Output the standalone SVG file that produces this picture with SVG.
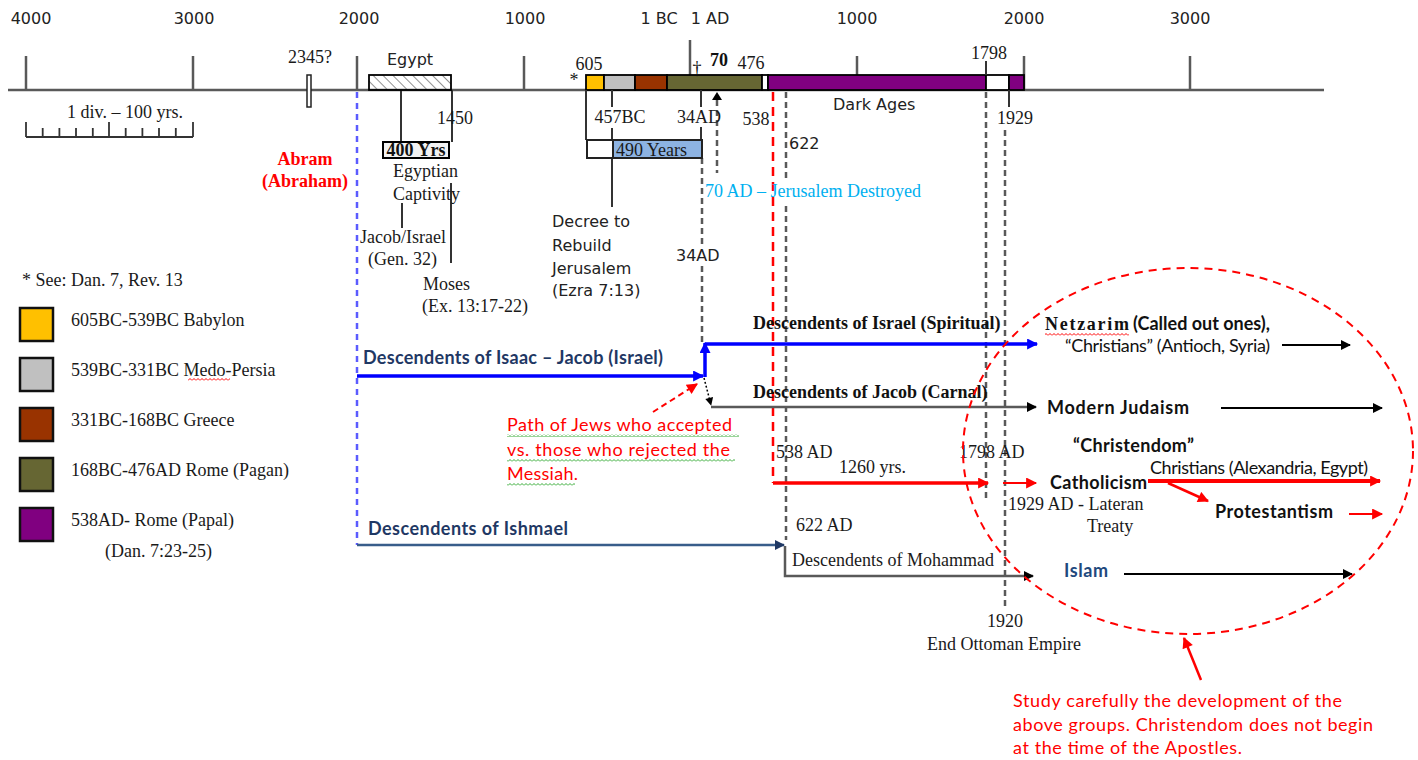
<svg xmlns="http://www.w3.org/2000/svg" width="1418" height="760" viewBox="0 0 1418 760">
<style>
.sr{font-family:"Liberation Serif","Times New Roman",serif;font-size:18px;fill:#1a1a1a}
.srb{font-family:"Liberation Serif","Times New Roman",serif;font-size:18px;font-weight:bold;fill:#111}
.ss{font-family:"DejaVu Sans",Verdana,sans-serif;font-size:16px;fill:#222}
.cb{font-family:Lato,"Liberation Sans",sans-serif;font-size:18px;fill:#111}
.cbb{font-family:Lato,"Liberation Sans",sans-serif;font-size:18px;font-weight:bold;fill:#111}
.red{fill:#ff0000}
.navy{fill:#1f3864}
.tick{stroke:#595959;stroke-width:2.5}
.thin{stroke:#333;stroke-width:2}
.gd{stroke:#595959;stroke-width:2.5;stroke-dasharray:6 4;fill:none}
.bar{stroke:#000;stroke-width:1.8}
.sw{stroke:#111;stroke-width:2.5}
</style>
<defs>
<marker id="aBlue" viewBox="0 0 10 10" refX="9" refY="5" markerWidth="13" markerHeight="11" markerUnits="userSpaceOnUse" orient="auto"><path d="M0,0 L10,5 L0,10 z" fill="#0000ff"/></marker>
<marker id="aBlack" viewBox="0 0 10 10" refX="9" refY="5" markerWidth="12" markerHeight="10" markerUnits="userSpaceOnUse" orient="auto"><path d="M0,0 L10,5 L0,10 z" fill="#000"/></marker>
<marker id="aBlackS" viewBox="0 0 10 10" refX="9" refY="5" markerWidth="9" markerHeight="8" markerUnits="userSpaceOnUse" orient="auto"><path d="M0,0 L10,5 L0,10 z" fill="#000"/></marker>
<marker id="aRed" viewBox="0 0 10 10" refX="9" refY="5" markerWidth="13" markerHeight="11" markerUnits="userSpaceOnUse" orient="auto"><path d="M0,0 L10,5 L0,10 z" fill="#ff0000"/></marker>
<marker id="aNavy" viewBox="0 0 10 10" refX="9" refY="5" markerWidth="12" markerHeight="10" markerUnits="userSpaceOnUse" orient="auto"><path d="M0,0 L10,5 L0,10 z" fill="#1f3864"/></marker>
<pattern id="hatch" width="7" height="7" patternUnits="userSpaceOnUse" patternTransform="rotate(-45)"><line x1="0" y1="0" x2="0" y2="7" stroke="#555" stroke-width="1.3"/></pattern>
<pattern id="wavyG" width="4" height="3" patternUnits="userSpaceOnUse"><path d="M0,2.5 L2,0.5 L4,2.5" fill="none" stroke="#33aa33" stroke-width="1"/></pattern>
<pattern id="wavyR" width="4" height="3" patternUnits="userSpaceOnUse"><path d="M0,2.5 L2,0.5 L4,2.5" fill="none" stroke="#ff0000" stroke-width="1"/></pattern>
</defs>
<rect width="1418" height="760" fill="#fff"/>

<g id="axis">
<line x1="8" y1="90" x2="1324" y2="90" class="tick"/>
<line x1="26" y1="56" x2="26" y2="90" class="tick"/>
<line x1="193" y1="56" x2="193" y2="90" class="tick"/>
<line x1="357" y1="56" x2="357" y2="90" class="tick"/>
<line x1="524" y1="56" x2="524" y2="90" class="tick"/>
<line x1="690" y1="40" x2="690" y2="90" class="tick"/>
<line x1="857" y1="56" x2="857" y2="90" class="tick"/>
<line x1="1024" y1="56" x2="1024" y2="90" class="tick"/>
<line x1="1190" y1="56" x2="1190" y2="90" class="tick"/>
<text class="ss" x="31" y="24" text-anchor="middle">4000</text>
<text class="ss" x="194" y="24" text-anchor="middle">3000</text>
<text class="ss" x="359" y="24" text-anchor="middle">2000</text>
<text class="ss" x="525" y="24" text-anchor="middle">1000</text>
<text class="ss" x="659" y="24" text-anchor="middle">1 BC</text>
<text class="ss" x="710" y="24" text-anchor="middle">1 AD</text>
<text class="ss" x="857" y="24" text-anchor="middle">1000</text>
<text class="ss" x="1024" y="24" text-anchor="middle">2000</text>
<text class="ss" x="1190" y="24" text-anchor="middle">3000</text>
</g>

<g id="scale">
<text class="sr" x="125" y="118" text-anchor="middle">1 div. – 100 yrs.</text>
<path d="M26,137 H193 M26,122 V137 M109,122 V137 M193,122 V137 M42.7,128 V137 M59.4,128 V137 M76,128 V137 M92.8,128 V137 M125.7,128 V137 M142.4,128 V137 M159,128 V137 M175.8,128 V137" stroke="#333" stroke-width="1.8" fill="none"/>
</g>

<g id="guides">
<line x1="357" y1="92" x2="357" y2="545" stroke="#5b5bff" stroke-width="2.5" stroke-dasharray="6 5"/>
<line x1="773" y1="92" x2="773" y2="483" stroke="#ff0000" stroke-width="2.5" stroke-dasharray="9 6"/>
<path class="gd" d="M702,158 V244 M702,266 V343"/>
<line class="gd" x1="717" y1="100" x2="717" y2="173"/>
<path class="gd" d="M786,92 V180 M786,206 V540"/>
<line class="gd" x1="986" y1="92" x2="986" y2="498"/>
<line class="gd" x1="1005" y1="130" x2="1005" y2="606"/>
</g>

<g id="abram">
<text class="srb red" x="305" y="165" text-anchor="middle">Abram</text>
<text class="srb red" x="305" y="187" text-anchor="middle">(Abraham)</text>
<text class="sr" x="310" y="63" text-anchor="middle">2345?</text>
<rect x="307" y="75" width="4" height="32" fill="#fff" stroke="#222" stroke-width="1.5"/>
</g>

<g id="egypt">
<line x1="401" y1="90" x2="401" y2="142" class="thin"/>
<line x1="452" y1="90" x2="452" y2="142" class="thin"/>
<line x1="451" y1="183" x2="451" y2="263" class="thin"/>
<line x1="402" y1="203" x2="402" y2="228" class="thin"/>
<rect x="369" y="75" width="82" height="15" fill="url(#hatch)" stroke="#000" stroke-width="1.8"/>
<text class="ss" x="410" y="65" text-anchor="middle">Egypt</text>
<text class="sr" x="455" y="124" text-anchor="middle">1450</text>
<rect x="383" y="142" width="66" height="16" fill="#f2f2f2" stroke="#000" stroke-width="2"/>
<text class="srb" x="416" y="156" text-anchor="middle" font-size="17">400 Yrs</text>
<text class="sr" x="393" y="177">Egyptian</text>
<text class="sr" x="393" y="200">Captivity</text>
<text class="sr" x="360" y="243">Jacob/Israel</text>
<text class="sr" x="368" y="265">(Gen. 32)</text>
<text class="sr" x="423" y="290">Moses</text>
<text class="sr" x="422" y="312">(Ex. 13:17-22)</text>
</g>

<g id="empires">
<rect x="586" y="75" width="18" height="15" fill="#ffc000" class="bar"/>
<rect x="604" y="75" width="31" height="15" fill="#c0c0c0" class="bar"/>
<rect x="635" y="75" width="32" height="15" fill="#993300" class="bar"/>
<rect x="667" y="75" width="95" height="15" fill="#666633" class="bar"/>
<rect x="762" y="75" width="6" height="15" fill="#fff" class="bar"/>
<rect x="768" y="75" width="218" height="15" fill="#800080" class="bar"/>
<rect x="986" y="75" width="23" height="15" fill="#fff" class="bar"/>
<rect x="1009" y="75" width="15" height="15" fill="#800080" class="bar"/>
<line x1="986" y1="61" x2="986" y2="75" class="thin"/>
<line x1="1009" y1="90" x2="1009" y2="107" class="thin"/>
<text class="sr" x="574" y="86" text-anchor="middle" font-size="16">*</text>
<text class="sr" x="589" y="70" text-anchor="middle">605</text>
<text class="sr" x="697" y="74" text-anchor="middle" font-size="17" style="fill:#111">†</text>
<text class="srb" x="719" y="66" text-anchor="middle" font-size="17">70</text>
<text class="sr" x="751" y="69" text-anchor="middle">476</text>
<text class="sr" x="989" y="59" text-anchor="middle">1798</text>
<text class="sr" x="1015" y="124" text-anchor="middle">1929</text>
<text class="ss" x="833" y="110">Dark Ages</text>
<text class="sr" x="756" y="125" text-anchor="middle">538</text>
<text class="ss" x="789" y="149" font-size="15">622</text>
</g>

<g id="seventy-weeks">
<path d="M586,90 V140 M612,90 V107 M612,128 V207 M701,90 V107 M701,127 V140" class="thin" fill="none"/>
<rect x="587" y="140" width="26" height="18" fill="#fff" stroke="#222" stroke-width="2"/>
<rect x="613" y="140" width="89" height="18" fill="#8db3e2" stroke="#222" stroke-width="2"/>
<text class="sr" x="616" y="156">490 Years</text>
<text class="sr" x="620" y="123" text-anchor="middle">457BC</text>
<text class="sr" x="699" y="123" text-anchor="middle">34AD</text>
<polygon points="712,100 717,92 722,100" fill="#000"/>
<text class="sr" x="705" y="197" style="fill:#00b0f0">70 AD – Jerusalem Destroyed</text>
<text class="ss" x="552" y="227" font-size="17">Decree to</text>
<text class="ss" x="552" y="251" font-size="17">Rebuild</text>
<text class="ss" x="552" y="274" font-size="15">Jerusalem</text>
<text class="ss" x="552" y="296" font-size="14.5">(Ezra 7:13)</text>
<text class="ss" x="676" y="261">34AD</text>
</g>

<g id="legend">
<text class="sr" x="22" y="286" font-size="17">* See: Dan. 7, Rev. 13</text>
<rect x="20" y="308" width="33" height="33" fill="#ffc000" class="sw"/>
<rect x="20" y="358" width="33" height="33" fill="#c0c0c0" class="sw"/>
<rect x="20" y="408" width="33" height="33" fill="#993300" class="sw"/>
<rect x="20" y="458" width="33" height="33" fill="#666633" class="sw"/>
<rect x="20" y="508" width="33" height="33" fill="#800080" class="sw"/>
<text class="sr" x="71" y="326">605BC-539BC Babylon</text>
<text class="sr" x="71" y="376">539BC-331BC Medo-Persia</text>
<rect x="188" y="378" width="42" height="3" fill="url(#wavyR)"/>
<text class="sr" x="71" y="426">331BC-168BC Greece</text>
<text class="sr" x="71" y="476">168BC-476AD Rome (Pagan)</text>
<text class="sr" x="71" y="526">538AD- Rome (Papal)</text>
<text class="sr" x="105" y="557">(Dan. 7:23-25)</text>
</g>

<g id="connectors">
<line x1="357" y1="376" x2="703" y2="376" stroke="#0000ff" stroke-width="3.5" marker-end="url(#aBlue)"/>
<line x1="705" y1="377" x2="705" y2="343" stroke="#0000ff" stroke-width="3.5" marker-end="url(#aBlue)"/>
<line x1="705" y1="344" x2="1037" y2="344" stroke="#0000ff" stroke-width="3.5" marker-end="url(#aBlue)"/>
<line x1="704" y1="378" x2="711" y2="405" stroke="#000" stroke-width="1.5" stroke-dasharray="2 2" marker-end="url(#aBlackS)"/>
<line x1="711" y1="407" x2="1036" y2="407" stroke="#595959" stroke-width="2.5" marker-end="url(#aBlack)"/>
<line x1="1282" y1="345" x2="1350" y2="345" stroke="#000" stroke-width="2" marker-end="url(#aBlack)"/>
<line x1="1221" y1="408" x2="1382" y2="408" stroke="#000" stroke-width="2" marker-end="url(#aBlack)"/>
<line x1="773" y1="483" x2="988" y2="483" stroke="#ff0000" stroke-width="3.5" marker-end="url(#aRed)"/>
<line x1="1003" y1="483" x2="1036" y2="483" stroke="#ff0000" stroke-width="2" marker-end="url(#aRed)"/>
<line x1="1148" y1="481" x2="1380" y2="481" stroke="#ff0000" stroke-width="4" marker-end="url(#aRed)"/>
<line x1="1168" y1="483" x2="1208" y2="501" stroke="#ff0000" stroke-width="2.5" marker-end="url(#aRed)"/>
<line x1="1349" y1="514" x2="1382" y2="514" stroke="#ff0000" stroke-width="2" marker-end="url(#aRed)"/>
<line x1="357" y1="545" x2="784" y2="545" stroke="#385d8a" stroke-width="2.5" marker-end="url(#aNavy)"/>
<polyline points="785,546 785,576 1033,576" fill="none" stroke="#595959" stroke-width="2.5" marker-end="url(#aBlack)"/>
<line x1="1124" y1="574" x2="1352" y2="574" stroke="#000" stroke-width="2" marker-end="url(#aBlack)"/>
<line x1="653" y1="412" x2="697" y2="384" stroke="#ff0000" stroke-width="2" stroke-dasharray="6 4" marker-end="url(#aRed)"/>
<line x1="1201" y1="680" x2="1184" y2="638" stroke="#ff0000" stroke-width="2.5" marker-end="url(#aRed)"/>
</g>

<g id="israel">
<text class="cbb navy" x="363" y="364" textLength="300">Descendents of Isaac – Jacob (Israel)</text>
<text class="srb" x="753" y="329">Descendents of Israel (Spiritual)</text>
<text class="srb" x="753" y="398">Descendents of Jacob (Carnal)</text>
</g>

<g id="jews-note">
<text class="cb red" x="507" y="431" textLength="225">Path of Jews who accepted</text>
<text class="cb red" x="507" y="456" textLength="223">vs. those who rejected the</text>
<text class="cb red" x="507" y="480" textLength="71">Messiah.</text>
<rect x="507" y="434" width="232" height="3" fill="url(#wavyG)"/>
<rect x="507" y="459" width="228" height="3" fill="url(#wavyG)"/>
<rect x="507" y="483" width="68" height="3" fill="url(#wavyG)"/>
</g>

<g id="netzarim">
<text class="srb" x="1045" y="330" font-size="21" textLength="84">Netzarim</text>
<rect x="1045" y="333" width="84" height="3" fill="url(#wavyR)"/>
<text class="cbb" x="1133" y="330" font-size="17" textLength="137">(Called out ones),</text>
<text class="cb" x="1065" y="352" font-size="15" textLength="205">“Christians” (Antioch, Syria)</text>
</g>

<g id="judaism">
<text class="cbb" x="1047" y="414" font-size="19" textLength="142">Modern Judaism</text>
</g>

<g id="papacy">
<text class="cbb" x="1073" y="452" textLength="121">“Christendom”</text>
<text class="sr" x="776" y="458">538 AD</text>
<text class="sr" x="959" y="458">1798 AD</text>
<text class="sr" x="839" y="473">1260 yrs.</text>
<text class="cbb" x="1050" y="489" font-size="19" textLength="97">Catholicism</text>
<text class="cb" x="1150" y="474" font-size="15" textLength="218">Christians (Alexandria, Egypt)</text>
<text class="cbb" x="1215" y="518" textLength="118">Protestantism</text>
<text class="sr" x="1008" y="510">1929 AD - Lateran</text>
<text class="sr" x="1087" y="532">Treaty</text>
</g>

<g id="ishmael">
<text class="cbb navy" x="368" y="535" textLength="200">Descendents of Ishmael</text>
<text class="sr" x="796" y="531">622 AD</text>
<text class="sr" x="792" y="566">Descendents of Mohammad</text>
<text class="cbb" x="1064" y="577" style="fill:#1f497d" textLength="44">Islam</text>
<text class="sr" x="1005" y="627" text-anchor="middle">1920</text>
<text class="sr" x="1004" y="650" text-anchor="middle">End Ottoman Empire</text>
</g>

<g id="focus">
<ellipse cx="1188" cy="451" rx="225" ry="183" fill="none" stroke="#ff0000" stroke-width="2" stroke-dasharray="8 6"/>
<text class="cb red" x="1013" y="707" textLength="329">Study carefully the development of the</text>
<text class="cb red" x="1013" y="731" textLength="360">above groups. Christendom does not begin</text>
<text class="cb red" x="1013" y="754" textLength="229">at the time of the Apostles.</text>
</g>
</svg>
